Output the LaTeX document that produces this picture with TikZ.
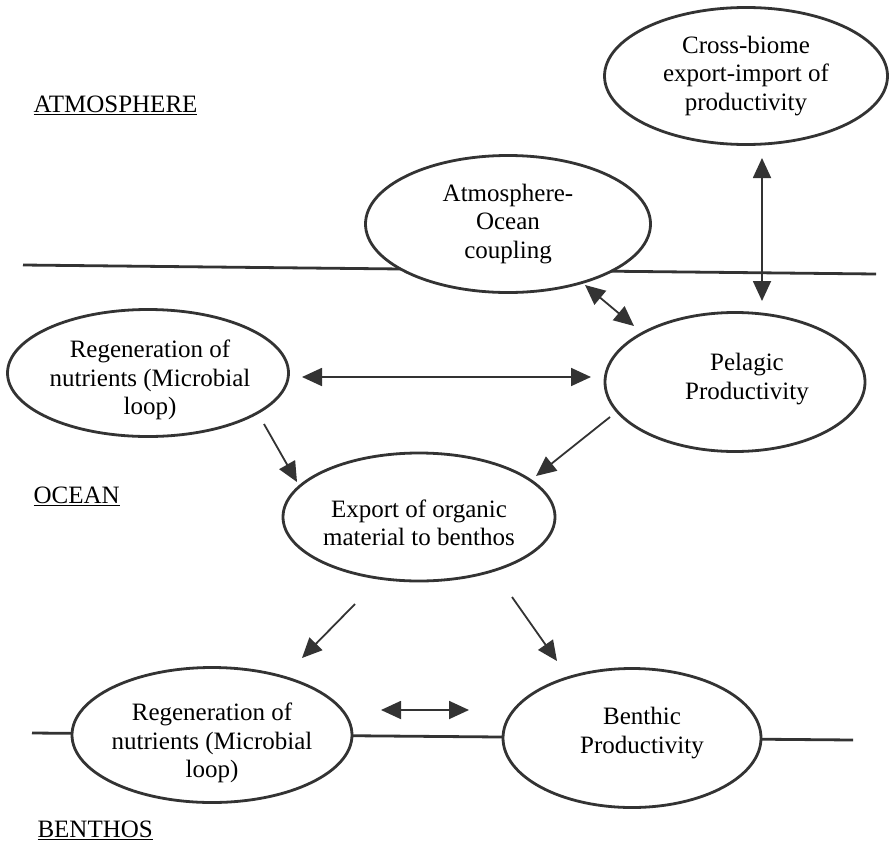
\documentclass[tikz,border=0pt]{standalone}
\usepackage{fontspec}
\setmainfont{Liberation Serif}
\usetikzlibrary{shapes.geometric,arrows.meta}
\begin{document}
\begin{tikzpicture}[x=1pt,y=-1pt,
  bubble/.style={ellipse,draw=black!80,line width=2.8pt,fill=white,inner sep=0pt},
  btxt/.style={align=center,inner sep=0pt,font=\fontsize{25}{28.5}\selectfont},
  level/.style={line width=2.8pt,draw=black!80},
  conn/.style={line width=1.8pt,draw=black!80,-{Triangle[length=20pt,width=18pt]}},
  dconn/.style={line width=1.8pt,draw=black!80,{Triangle[length=20pt,width=18pt]}-{Triangle[length=20pt,width=18pt]}},
  zone/.style={anchor=west,font=\fontsize{25}{28}\selectfont}]
\useasboundingbox (0,0) rectangle (891,846);
% level lines
\coordinate (t1) at (23,265);
\coordinate (t2) at (876,274);
\coordinate (b1) at (32,733);
\coordinate (b2) at (853,740);
\draw[level] (t1) -- (t2);
\draw[level] (b1) -- (b2);
% nodes
\node[bubble,minimum width=283pt,minimum height=137pt,
  label={[btxt]center:{Cross-biome\\export-import of\\productivity}}] (cross) at (746,76) {};
\node[bubble,minimum width=285pt,minimum height=137pt,
  label={[btxt]center:{Atmosphere-\\Ocean\\coupling}}] (aoc) at (508,224) {};
\node[bubble,minimum width=260pt,minimum height=139pt,
  label={[btxt,xshift=12pt,yshift=3pt]center:{Pelagic\\Productivity}}] (pel) at (735,382) {};
\node[bubble,minimum width=281pt,minimum height=127pt,
  label={[btxt,xshift=2pt,yshift=-7pt]center:{Regeneration of\\nutrients (Microbial\\loop)}}] (regu) at (148,373) {};
\node[bubble,minimum width=272pt,minimum height=128pt,
  label={[btxt,yshift=-6pt]center:{Export of organic\\material to benthos}}] (exp) at (419,517) {};
\node[bubble,minimum width=280pt,minimum height=135pt,
  label={[btxt,yshift=-8pt]center:{Regeneration of\\nutrients (Microbial\\loop)}}] (regl) at (212,735) {};
\node[bubble,minimum width=258pt,minimum height=139pt,
  label={[btxt,xshift=10pt,yshift=5pt]center:{Benthic\\Productivity}}] (ben) at (632,738) {};
% zone labels
\node[zone] (atm) at (30,105) {\underline{ATMOSPHERE}};
\node[zone] (oce) at (30,496) {\underline{OCEAN}};
\node[zone] (bth) at (34,830) {\underline{BENTHOS}};
% connector end points
\coordinate (c1a) at (762,158);
\coordinate (c1b) at (762,301);
\coordinate (c2a) at (585,285);
\coordinate (c2b) at (634,326);
\coordinate (c3a) at (302,377);
\coordinate (c3b) at (591,377);
\coordinate (c4a) at (264,424);
\coordinate (c4b) at (297,482);
\coordinate (c5a) at (610,417);
\coordinate (c5b) at (536,476);
\coordinate (c6a) at (355,604);
\coordinate (c6b) at (302,658);
\coordinate (c7a) at (512,597);
\coordinate (c7b) at (557,661);
\coordinate (c8a) at (381,710);
\coordinate (c8b) at (469,710);
% connectors
\draw[dconn] (c1a) -- (c1b);
\draw[dconn] (c2a) -- (c2b);
\draw[dconn] (c3a) -- (c3b);
\draw[conn] (c4a) -- (c4b);
\draw[conn] (c5a) -- (c5b);
\draw[conn] (c6a) -- (c6b);
\draw[conn] (c7a) -- (c7b);
\draw[dconn] (c8a) -- (c8b);
\end{tikzpicture}
\end{document}
